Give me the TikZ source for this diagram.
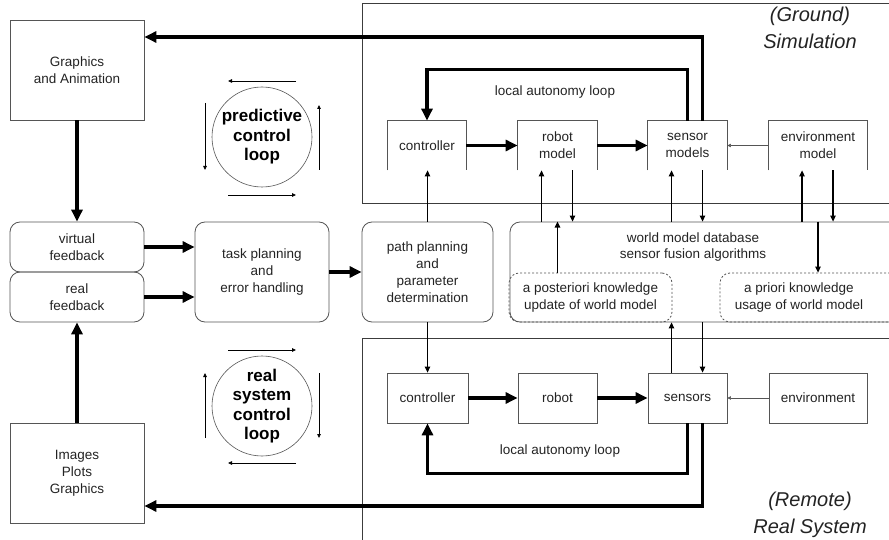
\documentclass[tikz,border=0pt]{standalone}
\usepackage{fontspec}
\setmainfont{Liberation Sans}
\usetikzlibrary{arrows.meta}
\definecolor{framegray}{RGB}{60,60,60}
\definecolor{boxgray}{RGB}{85,85,85}
\definecolor{textgray}{RGB}{35,35,35}

\begin{document}
\begin{tikzpicture}[x=1pt, y=-1pt,
    box/.style={draw=boxgray, line width=0.8pt, inner sep=0pt, align=center, text=textgray, font=\fontsize{13.5}{17}\selectfont},
    roundbox/.style={box, rounded corners=10pt},
    openbox/.style={box, draw=none},
    dashbox/.style={roundbox, dash pattern=on 2pt off 2pt},
    bigarrow/.style={line width=3.5pt, -{Triangle[length=12pt,width=11pt]}},
    smallarrow/.style={line width=1.2pt, -{Triangle[length=6pt,width=5.5pt]}},
    faintarrow/.style={draw=boxgray, line width=0.5pt, -{Triangle[length=3.5pt,width=3.5pt]}},
    looparrow/.style={line width=0.8pt, -{Triangle[length=4pt,width=3.5pt]}},
    loopcircle/.style={circle, draw=boxgray, line width=0.6pt, minimum size=100pt, inner sep=0pt, align=center, font=\fontsize{17}{19.5}\bfseries\selectfont},
    sitelabel/.style={align=center, text=textgray, font=\fontsize{20}{27}\itshape\selectfont}]

    \clip (0,0) rectangle (889,540);

    % Frames
    \draw[framegray, line width=0.8pt] (362,3) rectangle (900,203);
    \draw[framegray, line width=0.8pt] (362,338) rectangle (900,550);
    \node[sitelabel] (simlabel) at (810,28) {(Ground)\\Simulation};
    \node[sitelabel] (reallabel) at (810,515) {(Remote)\\Real System};

    % Left column
    \node[box, minimum width=134pt, minimum height=100pt] (gfx) at (77,70) {Graphics\\and Animation};
    \node[roundbox, minimum width=134pt, minimum height=50pt] (vfb) at (77,247) {virtual\\feedback};
    \node[roundbox, minimum width=134pt, minimum height=50pt] (rfb) at (77,297) {real\\feedback};
    \node[box, minimum width=134pt, minimum height=100pt] (img) at (77,473) {Images\\Plots\\Graphics};

    % Planning
    \node[roundbox, minimum width=134pt, minimum height=100pt] (task) at (262,272) {task planning\\and\\error handling};
    \node[roundbox, minimum width=131pt, minimum height=100pt] (path) at (427.5,272) {path planning\\and\\parameter\\determination};

    % World model
    \node[roundbox, minimum width=400pt, minimum height=100pt] (world) at (710,272) {};
    \node[text=textgray, align=center, font=\fontsize{13.5}{16}\selectfont] (worldtext) at (693,247) {world model database\\sensor fusion algorithms};
    \node[dashbox, minimum width=163pt, minimum height=49pt] (post) at (590.5,297.5) {a posteriori knowledge\\update of world model};
    \node[dashbox, minimum width=180pt, minimum height=49pt] (prio) at (810,297.5) {};
    \node[text=textgray, align=center, font=\fontsize{13.5}{17}\selectfont] (priotext) at (799,297.5) {a priori knowledge\\usage of world model};

    % Simulation blocks
    \foreach \n/\x/\w/\t in {sctrl/427/78/controller, srob/557.5/79/{robot\\model}, ssens/687.5/79/{sensor\\models}, senv/818/98/{environment\\model}}
        \node[openbox, minimum width=\w pt, minimum height=49pt] (\n) at (\x,145.5) {\t};
    \foreach \n in {sctrl,srob,ssens,senv}
        \draw[boxgray, line width=0.8pt] (\n.south west) -- (\n.north west) -- (\n.north east) -- (\n.south east);
    \node[text=textgray, font=\fontsize{13.5}{17}\selectfont] (simloop) at (555,92) {local autonomy loop};

    % Real system blocks
    \foreach \n/\x/\w/\t in {rctrl/427.5/81/controller, rrob/557.5/79/robot, rsens/687.5/79/sensors, renv/818/98/environment}
        \node[box, minimum width=\w pt, minimum height=50pt] (\n) at (\x,398) {\t};
    \node[text=textgray, font=\fontsize{13.5}{17}\selectfont] (realloop) at (560,451) {local autonomy loop};

    % Loop circles
    \node[loopcircle] (pcl) at (262,137) {predictive\\control\\loop};
    \node[loopcircle] (rcl) at (262,406) {real\\system\\control\\loop};
    \draw[looparrow] ([shift={(34,-56)}]pcl.center) -- ([shift={(-34,-56)}]pcl.center);
    \draw[looparrow] ([shift={(-57,-34)}]pcl.center) -- ([shift={(-57,33)}]pcl.center);
    \draw[looparrow] ([shift={(-34,58)}]pcl.center) -- ([shift={(34,58)}]pcl.center);
    \draw[looparrow] ([shift={(57,33)}]pcl.center) -- ([shift={(57,-32)}]pcl.center);
    \draw[looparrow] ([shift={(-34,-56)}]rcl.center) -- ([shift={(34,-56)}]rcl.center);
    \draw[looparrow] ([shift={(57,-33)}]rcl.center) -- ([shift={(57,32)}]rcl.center);
    \draw[looparrow] ([shift={(34,57)}]rcl.center) -- ([shift={(-34,57)}]rcl.center);
    \draw[looparrow] ([shift={(-57,32)}]rcl.center) -- ([shift={(-57,-33)}]rcl.center);

    % Thick signal flow
    \draw[bigarrow] (gfx.south) -- (vfb.north);
    \draw[bigarrow] (img.north) -- (rfb.south);
    \draw[bigarrow] (vfb.east) -- (vfb.east -| task.west);
    \draw[bigarrow] (rfb.east) -- (rfb.east -| task.west);
    \draw[bigarrow] (task.east) -- (path.west);
    \draw[bigarrow] (sctrl.east) -- (srob.west);
    \draw[bigarrow] (srob.east) -- (ssens.west);
    \draw[bigarrow] (rctrl.east) -- (rrob.west);
    \draw[bigarrow] (rrob.east) -- (rsens.west);
    \draw[faintarrow] (senv.west) -- (ssens.east);
    \draw[faintarrow] (renv.west) -- (rsens.east);

    % Feedback loops
    \draw[bigarrow] (ssens.north) -- ++(0,-51) -| (sctrl.north);
    \draw[bigarrow] ([xshift=15pt]ssens.north) |- ([yshift=33pt]gfx.east);
    \draw[bigarrow] (rsens.south) -- ++(0,50) -| (rctrl.south);
    \draw[bigarrow] ([xshift=15pt]rsens.south) |- ([yshift=-33pt]img.east);

    % Links to planning and world model
    \draw[smallarrow] (path.north) -- (path.north |- sctrl.south);
    \draw[smallarrow] (path.south) -- (path.south |- rctrl.north);
    \foreach \b in {srob,ssens,senv} {
        \coordinate (\b-up) at ([xshift=-16pt]\b.south);
        \coordinate (\b-dn) at ([xshift=15pt]\b.south);
        \draw[smallarrow] (\b-up |- world.north) -- (\b-up);
        \draw[smallarrow] (\b-dn) -- (\b-dn |- world.north);
    }
    \coordinate (rsens-up) at ([xshift=-16pt]rsens.north);
    \coordinate (rsens-dn) at ([xshift=15pt]rsens.north);
    \draw[smallarrow] (rsens-up) -- (rsens-up |- world.south);
    \draw[smallarrow] (rsens-dn |- world.south) -- (rsens-dn);
    \coordinate (post-up) at ([xshift=-33pt]post.north);
    \draw[smallarrow] (post-up) -- (post-up |- world.north);
    \draw[smallarrow] (senv.south |- world.north) -- (senv.south |- prio.north);
\end{tikzpicture}
\end{document}
